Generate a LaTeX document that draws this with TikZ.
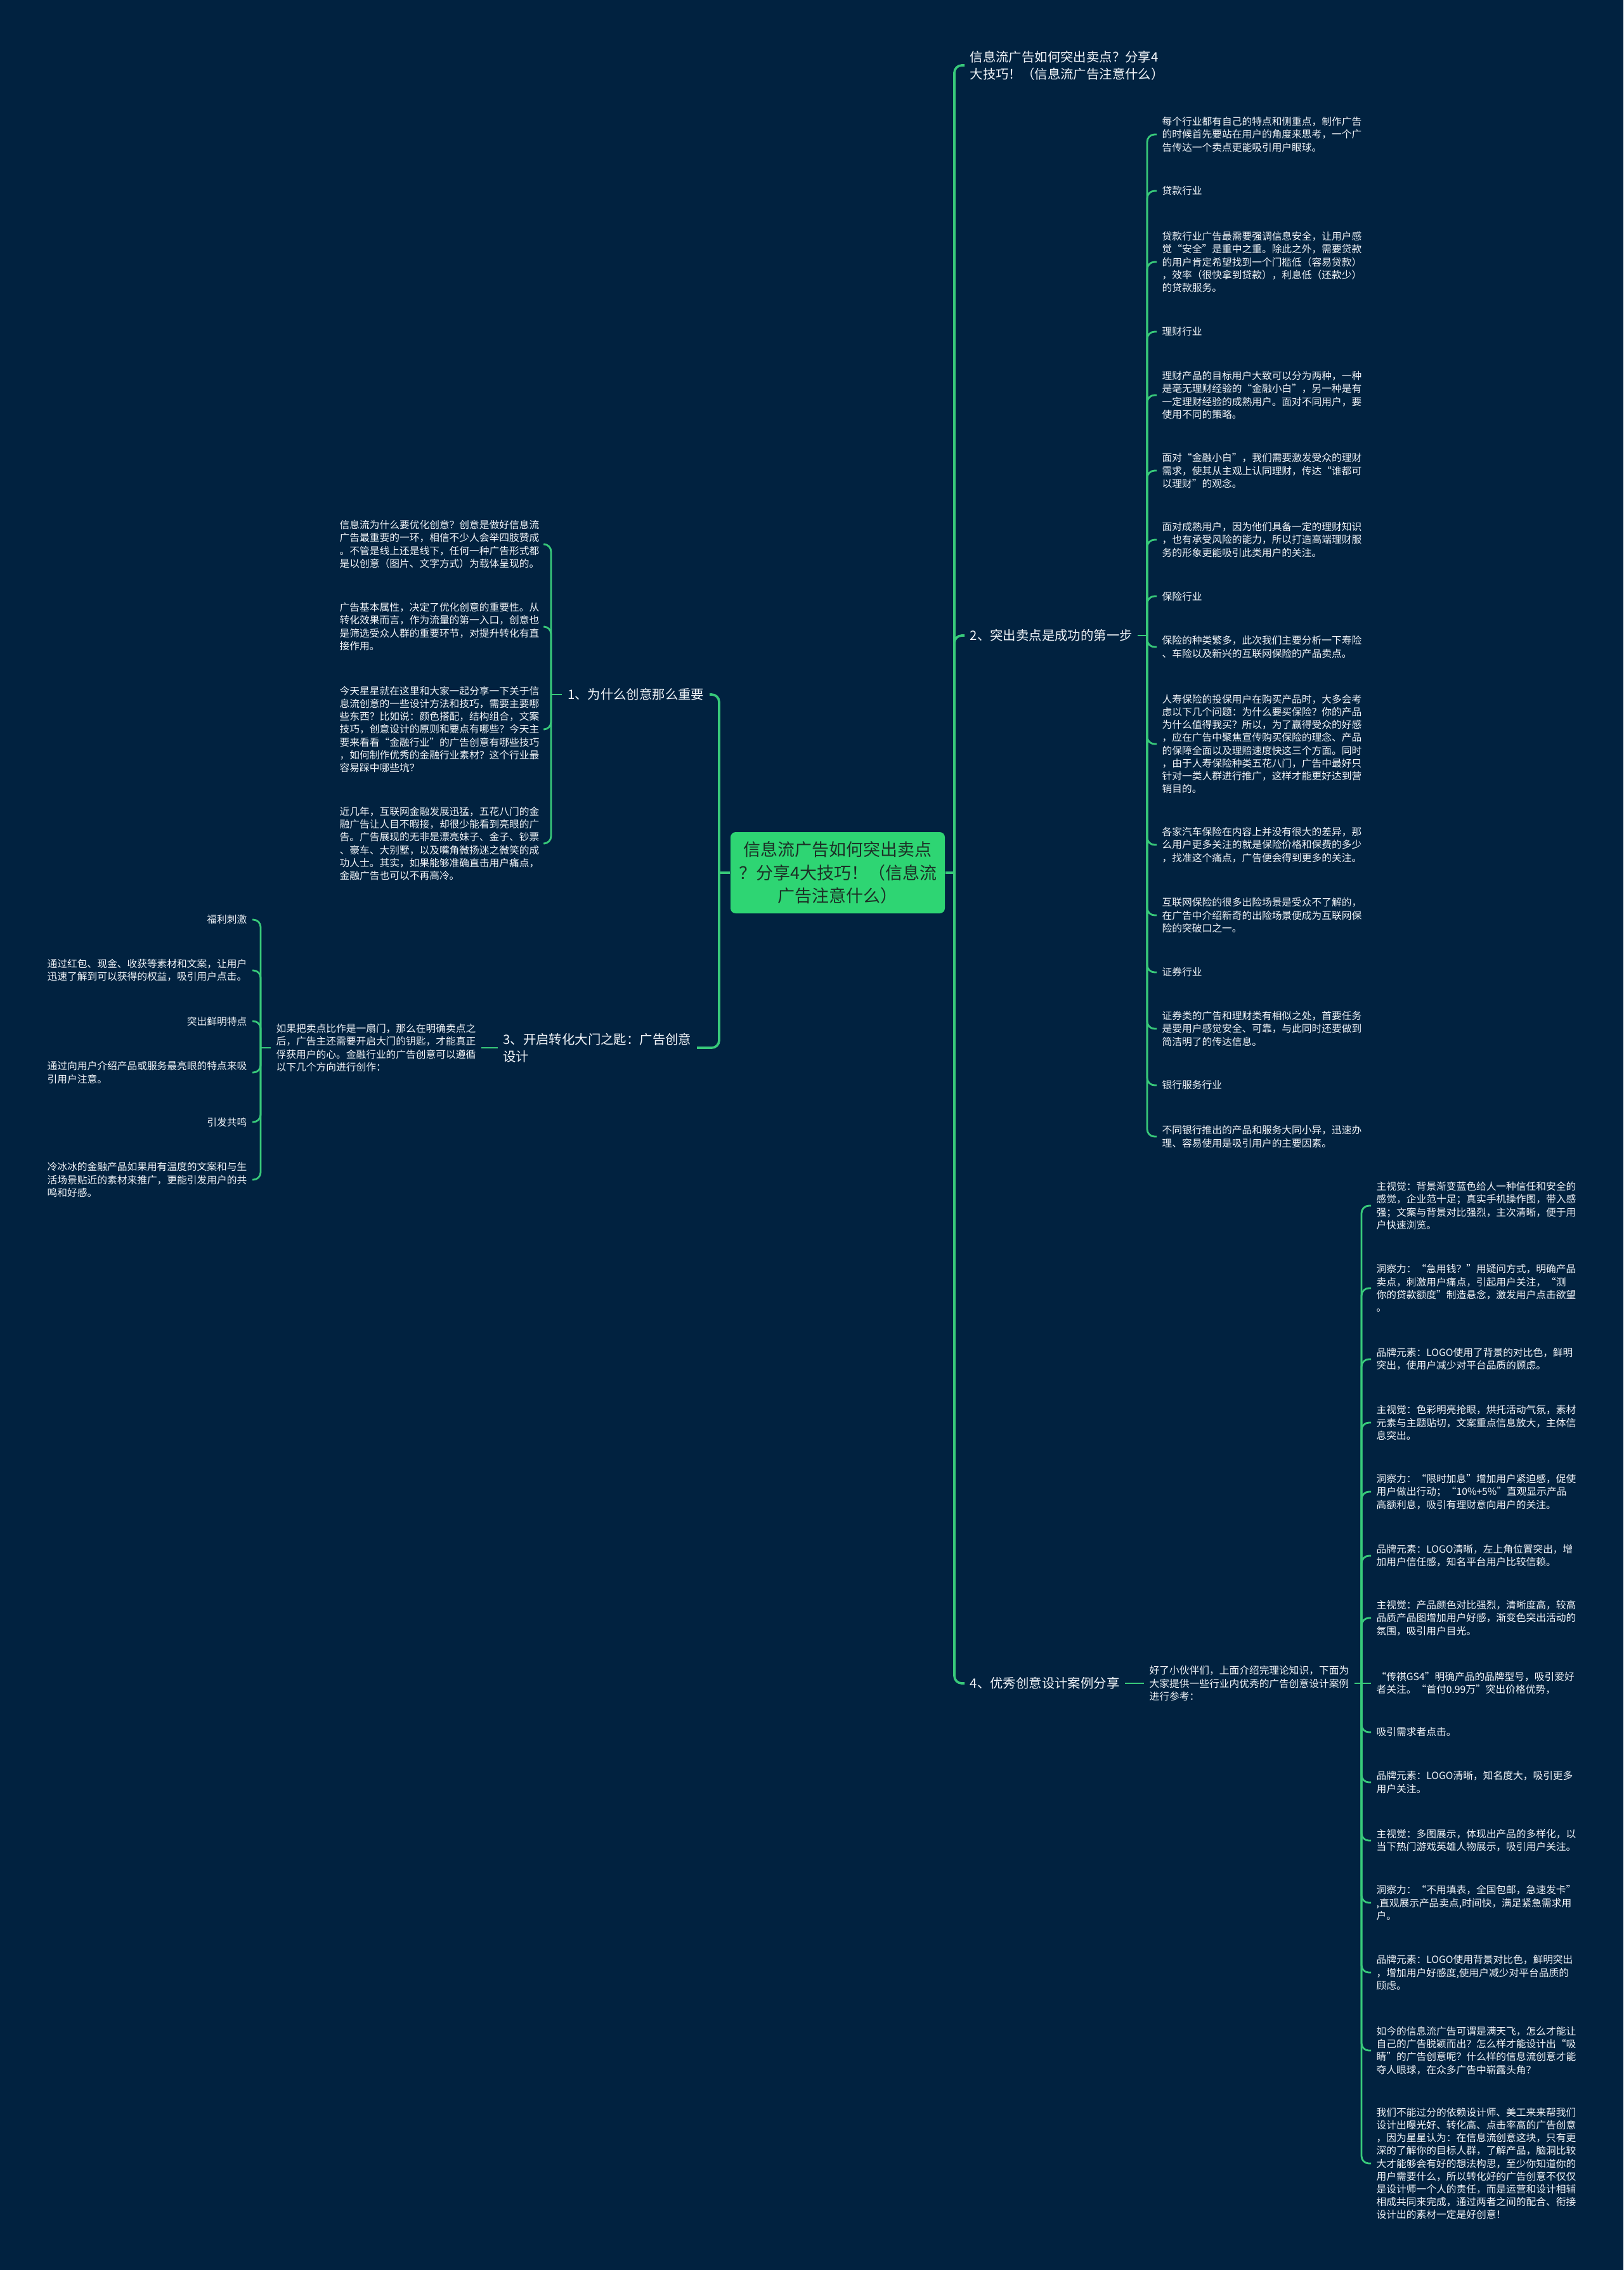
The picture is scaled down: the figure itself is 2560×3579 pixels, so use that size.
\documentclass[tikz,border=0pt]{standalone}
\usepackage{fontspec}
\setmainfont{Noto Sans CJK SC}
\definecolor{bgc}{RGB}{1,34,64}
\definecolor{lnc}{RGB}{56,201,122}
\definecolor{rootc}{RGB}{46,213,115}
\definecolor{rtxt}{RGB}{28,48,38}
\definecolor{txt}{RGB}{240,244,248}
\begin{document}
\begin{tikzpicture}[x=0.3pt,y=-0.3pt,
 leaf/.style={text=txt,font=\fontsize{4.72}{6.05}\selectfont,align=left,inner xsep=2.4pt,inner ysep=0pt},
 branch/.style={text=txt,font=\fontsize{6.12}{8.1}\selectfont,align=left,inner xsep=2.4pt,inner ysep=0pt},
 rootbox/.style={fill=rootc,rounded corners=2.4pt,text=rtxt,font=\fontsize{8.1}{10.95}\selectfont,align=center,minimum width=101.4pt,minimum height=38.4pt,inner sep=0pt},
 mainln/.style={draw=lnc,line width=1.1pt,rounded corners=3.5pt},
 subln/.style={draw=lnc,line width=0.85pt,rounded corners=3.5pt}
]
\useasboundingbox (0,0) rectangle (2560,3579);
\fill[bgc] (0,0) rectangle (2560,3579);

% root
\node[rootbox] (root) at (1321,1376) {信息流广告如何突出卖点\\？分享4大技巧！（信息流\\广告注意什么）};
\coordinate (tR) at (1505,1376);
\coordinate (tL) at (1134,1376);

% right main branches
\node[branch,anchor=west] (R1) at (1521,103) {信息流广告如何突出卖点？分享4\\大技巧！（信息流广告注意什么）};
\node[branch,anchor=west] (R2) at (1521,1002) {2、突出卖点是成功的第一步};
\node[branch,anchor=west] (R4) at (1521,2654) {4、优秀创意设计案例分享};

% left main branches
\node[branch,anchor=east] (L1) at (1119,1095) {1、为什么创意那么重要};
\node[branch,anchor=east] (L3) at (1099,1652) {3、开启转化大门之匙：广告创意\\设计};

\draw[mainln] (root.east) -- (tR);
\draw[mainln] (tR) |- (R1.west);
\draw[mainln] (tR) |- (R2.west);
\draw[mainln] (tR) |- (R4.west);
\draw[mainln] (root.west) -- (tL);
\draw[mainln] (tL) |- (L1.east);
\draw[mainln] (tL) |- (L3.east);

% R2 leaves
\coordinate (tR2) at (1809,1002);
\draw[subln] (R2.east) -- (tR2);
\node[leaf,anchor=west] (a1) at (1824,212) {每个行业都有自己的特点和侧重点，制作广告\\的时候首先要站在用户的角度来思考，一个广\\告传达一个卖点更能吸引用户眼球。};
\node[leaf,anchor=west] (a2) at (1824,301) {贷款行业};
\node[leaf,anchor=west] (a3) at (1824,413) {贷款行业广告最需要强调信息安全，让用户感\\觉“安全”是重中之重。除此之外，需要贷款\\的用户肯定希望找到一个门槛低（容易贷款）\\，效率（很快拿到贷款），利息低（还款少）\\的贷款服务。};
\node[leaf,anchor=west] (a4) at (1824,523) {理财行业};
\node[leaf,anchor=west] (a5) at (1824,623) {理财产品的目标用户大致可以分为两种，一种\\是毫无理财经验的“金融小白”，另一种是有\\一定理财经验的成熟用户。面对不同用户，要\\使用不同的策略。};
\node[leaf,anchor=west] (a6) at (1824,742) {面对“金融小白”，我们需要激发受众的理财\\需求，使其从主观上认同理财，传达“谁都可\\以理财”的观念。};
\node[leaf,anchor=west] (a7) at (1824,851) {面对成熟用户，因为他们具备一定的理财知识\\，也有承受风险的能力，所以打造高端理财服\\务的形象更能吸引此类用户的关注。};
\node[leaf,anchor=west] (a8) at (1824,940) {保险行业};
\node[leaf,anchor=west] (a9) at (1824,1020) {保险的种类繁多，此次我们主要分析一下寿险\\、车险以及新兴的互联网保险的产品卖点。};
\node[leaf,anchor=west] (a10) at (1824,1173) {人寿保险的投保用户在购买产品时，大多会考\\虑以下几个问题：为什么要买保险？你的产品\\为什么值得我买？所以，为了赢得受众的好感\\，应在广告中聚焦宣传购买保险的理念、产品\\的保障全面以及理赔速度快这三个方面。同时\\，由于人寿保险种类五花八门，广告中最好只\\针对一类人群进行推广，这样才能更好达到营\\销目的。};
\node[leaf,anchor=west] (a11) at (1824,1332) {各家汽车保险在内容上并没有很大的差异，那\\么用户更多关注的就是保险价格和保费的多少\\，找准这个痛点，广告便会得到更多的关注。};
\node[leaf,anchor=west] (a12) at (1824,1443) {互联网保险的很多出险场景是受众不了解的，\\在广告中介绍新奇的出险场景便成为互联网保\\险的突破口之一。};
\node[leaf,anchor=west] (a13) at (1824,1533) {证券行业};
\node[leaf,anchor=west] (a14) at (1824,1622) {证券类的广告和理财类有相似之处，首要任务\\是要用户感觉安全、可靠，与此同时还要做到\\简洁明了的传达信息。};
\node[leaf,anchor=west] (a15) at (1824,1711) {银行服务行业};
\node[leaf,anchor=west] (a16) at (1824,1792) {不同银行推出的产品和服务大同小异，迅速办\\理、容易使用是吸引用户的主要因素。};
\foreach \n in {a1,a2,a3,a4,a5,a6,a7,a8,a9,a10,a11,a12,a13,a14,a15,a16}
  \draw[subln] (tR2) |- (\n.west);

% R4
\node[leaf,anchor=west] (m4) at (1804,2654) {好了小伙伴们，上面介绍完理论知识，下面为\\大家提供一些行业内优秀的广告创意设计案例\\进行参考：};
\coordinate (tR4) at (2147,2654);
\draw[subln] (R4.east) -- (m4.west);
\draw[subln] (m4.east) -- (tR4);
\node[leaf,anchor=west] (b1) at (2162,1901) {主视觉：背景渐变蓝色给人一种信任和安全的\\感觉，企业范十足；真实手机操作图，带入感\\强；文案与背景对比强烈，主次清晰，便于用\\户快速浏览。};
\node[leaf,anchor=west] (b2) at (2162,2031) {洞察力：“急用钱？”用疑问方式，明确产品\\卖点，刺激用户痛点，引起用户关注，“测\\你的贷款额度”制造悬念，激发用户点击欲望\\。};
\node[leaf,anchor=west] (b3) at (2162,2143) {品牌元素：LOGO使用了背景的对比色，鲜明\\突出，使用户减少对平台品质的顾虑。};
\node[leaf,anchor=west] (b4) at (2162,2243) {主视觉：色彩明亮抢眼，烘托活动气氛，素材\\元素与主题贴切，文案重点信息放大，主体信\\息突出。};
\node[leaf,anchor=west] (b5) at (2162,2352) {洞察力：“限时加息”增加用户紧迫感，促使\\用户做出行动；“10\%+5\%”直观显示产品\\高额利息，吸引有理财意向用户的关注。};
\node[leaf,anchor=west] (b6) at (2162,2453) {品牌元素：LOGO清晰，左上角位置突出，增\\加用户信任感，知名平台用户比较信赖。};
\node[leaf,anchor=west] (b7) at (2162,2551) {主视觉：产品颜色对比强烈，清晰度高，较高\\品质产品图增加用户好感，渐变色突出活动的\\氛围，吸引用户目光。};
\node[leaf,anchor=west] (b8) at (2162,2654) {“传祺GS4”明确产品的品牌型号，吸引爱好\\者关注。“首付0.99万”突出价格优势，};
\node[leaf,anchor=west] (b9) at (2162,2731) {吸引需求者点击。};
\node[leaf,anchor=west] (b10) at (2162,2810) {品牌元素：LOGO清晰，知名度大，吸引更多\\用户关注。};
\node[leaf,anchor=west] (b11) at (2162,2902) {主视觉：多图展示，体现出产品的多样化，以\\当下热门游戏英雄人物展示，吸引用户关注。};
\node[leaf,anchor=west] (b12) at (2162,3000) {洞察力：“不用填表，全国包邮，急速发卡”\\,直观展示产品卖点,时间快，满足紧急需求用\\户。};
\node[leaf,anchor=west] (b13) at (2162,3110) {品牌元素：LOGO使用背景对比色，鲜明突出\\，增加用户好感度,使用户减少对平台品质的\\顾虑。};
\node[leaf,anchor=west] (b14) at (2162,3233) {如今的信息流广告可谓是满天飞，怎么才能让\\自己的广告脱颖而出？怎么样才能设计出“吸\\睛”的广告创意呢？什么样的信息流创意才能\\夺人眼球，在众多广告中崭露头角？};
\node[leaf,anchor=west] (b15) at (2162,3411) {我们不能过分的依赖设计师、美工来来帮我们\\设计出曝光好、转化高、点击率高的广告创意\\，因为星星认为：在信息流创意这块，只有更\\深的了解你的目标人群，了解产品，脑洞比较\\大才能够会有好的想法构思，至少你知道你的\\用户需要什么，所以转化好的广告创意不仅仅\\是设计师一个人的责任，而是运营和设计相辅\\相成共同来完成，通过两者之间的配合、衔接\\设计出的素材一定是好创意！};
\foreach \n in {b1,b2,b3,b4,b5,b6,b7,b9,b10,b11,b12,b13,b14,b15}
  \draw[subln] (tR4) |- (\n.west);
\draw[subln] (tR4) -- (b8.west);

% L1 leaves
\coordinate (tL1) at (869,1095);
\draw[subln] (L1.west) -- (tL1);
\node[leaf,anchor=east] (c1) at (859,858) {信息流为什么要优化创意？创意是做好信息流\\广告最重要的一环，相信不少人会举四肢赞成\\。不管是线上还是线下，任何一种广告形式都\\是以创意（图片、文字方式）为载体呈现的。};
\node[leaf,anchor=east] (c2) at (859,988) {广告基本属性，决定了优化创意的重要性。从\\转化效果而言，作为流量的第一入口，创意也\\是筛选受众人群的重要环节，对提升转化有直\\接作用。};
\node[leaf,anchor=east] (c3) at (859,1150) {今天星星就在这里和大家一起分享一下关于信\\息流创意的一些设计方法和技巧，需要主要哪\\些东西？比如说：颜色搭配，结构组合，文案\\技巧，创意设计的原则和要点有哪些？今天主\\要来看看“金融行业”的广告创意有哪些技巧\\，如何制作优秀的金融行业素材？这个行业最\\容易踩中哪些坑？};
\node[leaf,anchor=east] (c4) at (859,1330) {近几年，互联网金融发展迅猛，五花八门的金\\融广告让人目不暇接，却很少能看到亮眼的广\\告。广告展现的无非是漂亮妹子、金子、钞票\\、豪车、大别墅，以及嘴角微扬迷之微笑的成\\功人士。其实，如果能够准确直击用户痛点，\\金融广告也可以不再高冷。};
\foreach \n in {c1,c2,c3,c4}
  \draw[subln] (tL1) |- (\n.east);

% L3
\node[leaf,anchor=east] (m3) at (759,1652) {如果把卖点比作是一扇门，那么在明确卖点之\\后，广告主还需要开启大门的钥匙，才能真正\\俘获用户的心。金融行业的广告创意可以遵循\\以下几个方向进行创作：};
\coordinate (tL3) at (411,1652);
\draw[subln] (L3.west) -- (m3.east);
\draw[subln] (m3.west) -- (tL3);
\node[leaf,anchor=east] (d1) at (398,1450) {福利刺激};
\node[leaf,anchor=east] (d2) at (398,1530) {通过红包、现金、收获等素材和文案，让用户\\迅速了解到可以获得的权益，吸引用户点击。};
\node[leaf,anchor=east] (d3) at (398,1610) {突出鲜明特点};
\node[leaf,anchor=east] (d4) at (398,1691) {通过向用户介绍产品或服务最亮眼的特点来吸\\引用户注意。};
\node[leaf,anchor=east] (d5) at (398,1769) {引发共鸣};
\node[leaf,anchor=east] (d6) at (398,1860) {冷冰冰的金融产品如果用有温度的文案和与生\\活场景贴近的素材来推广，更能引发用户的共\\鸣和好感。};
\foreach \n in {d1,d2,d3,d4,d5,d6}
  \draw[subln] (tL3) |- (\n.east);
\end{tikzpicture}
\end{document}
